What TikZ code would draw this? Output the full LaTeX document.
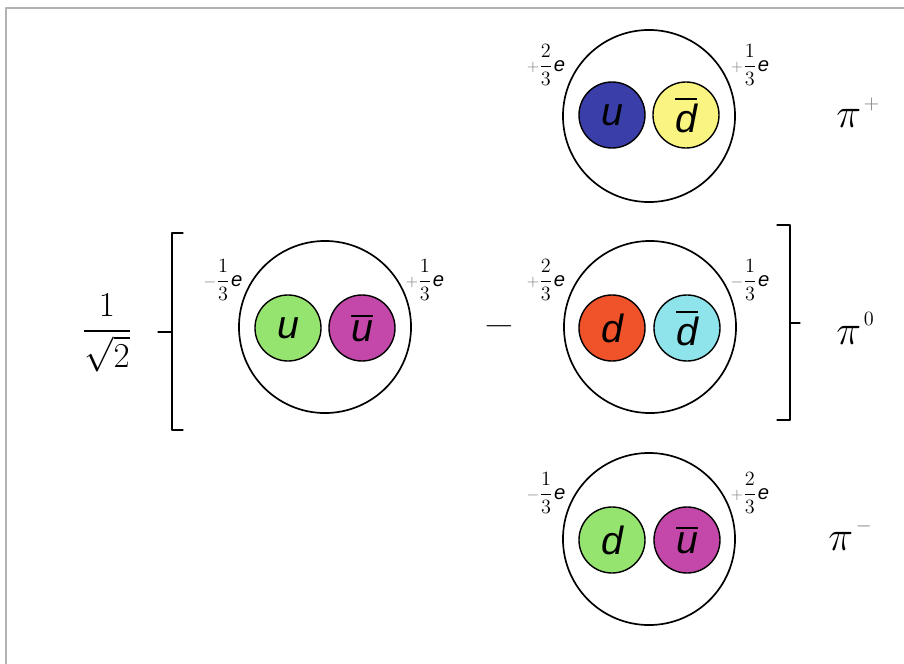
\documentclass[tikz,border=0pt]{standalone}
\usepackage{fontspec}
\usepackage{amsmath}
\usepackage{graphicx}
\newfontfamily\quarkfont{Liberation Sans}
\definecolor{qblue}{RGB}{58,62,168}
\definecolor{qyellow}{RGB}{250,244,128}
\definecolor{qgreen}{RGB}{150,228,112}
\definecolor{qmagenta}{RGB}{196,72,170}
\definecolor{qred}{RGB}{240,82,42}
\definecolor{qcyan}{RGB}{142,228,234}
\definecolor{framegray}{RGB}{178,178,178}
\newcommand{\chg}[2]{{\color{black!55}\scalebox{0.8}{$#1$}}$\dfrac{#2}{3}$\kern1pt{\quarkfont\itshape e}}
\newcommand{\qbar}[1]{$\overline{\hbox{#1}}$}
\newcommand{\pion}[1]{\scalebox{1.2}{$\pi$}\kern2pt\raisebox{13pt}{\fontsize{14.4}{15}\selectfont#1}}

\begin{document}
\begin{tikzpicture}[x=0.025cm,y=-0.025cm,line cap=round,line join=round,
  hadron/.style={circle,draw,line width=1.2pt,minimum size=4.3cm,inner sep=0pt},
  quark/.style={circle,draw,line width=1pt,minimum size=1.65cm,inner sep=0pt,
    font=\quarkfont\itshape\fontsize{28}{28}\selectfont},
  charge/.style={inner sep=0pt,font=\fontsize{14.4}{17}\selectfont},
  pilabel/.style={inner sep=0pt,anchor=base west,font=\fontsize{24.88}{28}\selectfont}]
  \useasboundingbox[fill=white] (0,0) rectangle (904,664);
  % 边框
  \draw[framegray,line width=1.5pt] (6,664) -- (6,8) -- (904,8);
  % pi+
  \node[hadron] (pip) at (649,116) {};
  \node[quark,fill=qblue] (pipu) at (612,115) {u};
  \node[quark,fill=qyellow] (pipd) at (686,115) {\qbar{d}};
  \node[charge] (pipql) at (546,65) {\chg{+}{2}};
  \node[charge] (pipqr) at (750,65) {\chg{+}{1}};
  \node[pilabel] (piplab) at (836,128) {\pion{\color{black!55}$+$}};
  % pi0：系数与括号
  \node[inner sep=0pt,font=\fontsize{24.88}{28}\selectfont] (coef) at (107,333) {$\dfrac{1}{\sqrt{2}}$};
  \draw[line width=0.9pt] (183,233) -- (172,233) -- (172,430) -- (183,430);
  \draw[line width=0.9pt] (158,332) -- (172,332);
  \draw[line width=0.9pt] (777,225) -- (790,225) -- (790,420) -- (777,420);
  \draw[line width=0.9pt] (790,323) -- (800,323);
  % pi0 左项 u ubar
  \node[hadron] (pizua) at (325,327) {};
  \node[quark,fill=qgreen] (pizu) at (288,328) {u};
  \node[quark,fill=qmagenta] (pizub) at (362,328) {\qbar{u}};
  \node[charge] (pizql) at (223,280) {\chg{-}{1}};
  \node[charge] (pizqr) at (425,280) {\chg{+}{1}};
  % 减号
  \node[inner sep=0pt,font=\fontsize{20.74}{24}\selectfont] (minus) at (499,326) {\scalebox{1.4}[1]{$-$}};
  % pi0 右项 d dbar
  \node[hadron] (pizdb) at (650,327) {};
  \node[quark,fill=qred] (pizd) at (612,328) {d};
  \node[quark,fill=qcyan] (pizdd) at (687,328) {\qbar{d}};
  \node[charge] (pizql2) at (546,280) {\chg{+}{2}};
  \node[charge] (pizqr2) at (750,280) {\chg{-}{1}};
  \node[pilabel] (pizlab) at (836,344) {\pion{0}};
  % pi-
  \node[hadron] (pim) at (649,539) {};
  \node[quark,fill=qgreen] (pimd) at (612,540) {d};
  \node[quark,fill=qmagenta] (pimu) at (687,540) {\qbar{u}};
  \node[charge] (pimql) at (546,493) {\chg{-}{1}};
  \node[charge] (pimqr) at (750,493) {\chg{+}{2}};
  \node[pilabel] (pimlab) at (828,550) {\pion{\color{black!55}$-$}};
\end{tikzpicture}
\end{document}
